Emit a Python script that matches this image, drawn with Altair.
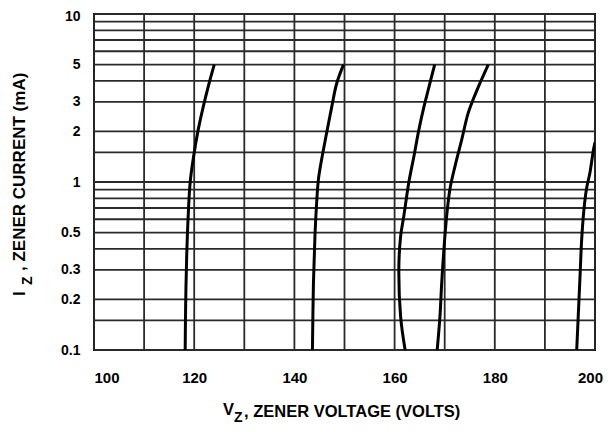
import altair as alt
import pandas as pd

# ---- axis ticks / grid ----
x_ticks = [100, 120, 140, 160, 180, 200]
y_ticks = [0.1, 0.2, 0.3, 0.5, 1, 2, 3, 5, 10]
v_grid = [100, 110, 120, 130, 140, 150, 160, 170, 180, 190, 200]
i_grid = [0.1, 0.15, 0.2, 0.3, 0.4, 0.5, 0.6, 0.7, 0.8, 0.9,
          1, 1.5, 2, 3, 4, 5, 6, 7, 8, 9, 10]

# ---- zener curves (V in volts, I in mA) ----
c1_v = [118.2, 118.3, 118.5, 118.8, 119.2, 119.8, 120.8, 121.8, 122.8, 124.0]
c1_i = [0.1, 0.19, 0.36, 0.63, 1.0, 1.37, 2.05, 2.8, 3.7, 5.0]

c2_v = [143.6, 143.8, 144.1, 144.45, 144.8, 145.45, 146.45, 147.45, 148.45, 149.8]
c2_i = [0.1, 0.25, 0.475, 0.76, 1.04, 1.37, 1.97, 2.8, 3.87, 5.0]

c3_v = [162.1, 161.2, 160.85, 161.2, 161.85, 162.85, 163.85, 164.85, 165.85, 166.85, 168.0]
c3_i = [0.1, 0.158, 0.31, 0.475, 0.63, 1.0, 1.42, 2.05, 2.8, 3.67, 5.0]

c4_v = [168.5, 169.05, 169.4, 169.85, 170.4, 171.05, 172.05, 173.4, 174.7, 176.4, 178.7]
c4_i = [0.1, 0.158, 0.25, 0.40, 0.63, 0.91, 1.24, 1.79, 2.58, 3.5, 5.0]

c5_v = [196.35, 196.65, 197.0, 197.35, 197.8, 198.3, 199.0, 199.7, 200.0]
c5_i = [0.1, 0.158, 0.27, 0.46, 0.69, 0.91, 1.14, 1.56, 1.72]

curves_src = [("A", c1_v, c1_i), ("B", c2_v, c2_i), ("C", c3_v, c3_i),
              ("D", c4_v, c4_i), ("E", c5_v, c5_i)]

rows = []
for name, vs, cs in curves_src:
    for k, (v, i) in enumerate(zip(vs, cs)):
        rows.append({"curve": name, "V": v, "I": i, "k": k})
df = pd.DataFrame(rows)

FONT = "Liberation Sans"
xs = alt.Scale(domain=[100, 200], nice=False, zero=False)
ys = alt.Scale(type="log", domain=[0.1, 10], nice=False)

x_axis = alt.Axis(
    values=x_ticks, title=None, grid=False, domain=False, ticks=False,
    tickSize=0, labelPadding=20, labelFontSize=15, labelFont=FONT,
    labelFontWeight="bold", labelColor="black", labelBaseline="top",
    labelOverlap=False,
    labelAlign={"expr": "datum.value == 100 ? 'left' : 'center'"},
    labelOffset={"expr": "datum.value == 200 ? -5 : 0"})
y_axis = alt.Axis(
    values=y_ticks, format="~g", title=None, grid=False, domain=False,
    ticks=False, tickSize=0, labelPadding=14, labelFontSize=14,
    labelFont=FONT, labelFontWeight="bold", labelColor="black",
    labelOverlap=False,
    labelOffset={"expr": "datum.value == 10 ? 2 : 0"})

curves = alt.Chart(df).mark_line(
    color="black", strokeWidth=3, interpolate="catmull-rom", clip=True
).encode(
    x=alt.X("V:Q", scale=xs, axis=x_axis),
    y=alt.Y("I:Q", scale=ys, axis=y_axis),
    detail="curve:N",
    order="k:Q",
)

hgrid = alt.Chart(pd.DataFrame({"I": i_grid})).mark_rule(
    color="#2a2a2a", strokeWidth=1.8
).encode(y=alt.Y("I:Q", scale=ys, axis=y_axis))

vgrid = alt.Chart(pd.DataFrame({"V": v_grid})).mark_rule(
    color="#2a2a2a", strokeWidth=1.8
).encode(x=alt.X("V:Q", scale=xs, axis=x_axis))


def label(txt, px, py, size, angle=0):
    return alt.Chart(pd.DataFrame({"t": [txt]})).mark_text(
        font=FONT, fontSize=size, fontWeight="bold", color="black",
        align="left", baseline="alphabetic", angle=angle
    ).encode(text="t:N", x=alt.value(px), y=alt.value(py))


# x title: V_Z, ZENER VOLTAGE (VOLTS)
xt1 = label("V", 129, 401, 16.5)
xt2 = label("Z", 140, 408, 14)
xt3 = label(", ZENER VOLTAGE (VOLTS)", 150, 403, 16.5)

# y title: I_Z, ZENER CURRENT (mA) (rotated)
yt1 = label("I", -69, 282, 17, angle=270)
yt2 = label("Z", -62, 271, 14, angle=270)
yt3 = label(", ZENER CURRENT (mA)", -69, 257, 17, angle=270)

chart = alt.layer(hgrid, vgrid, curves, xt1, xt2, xt3, yt1, yt2, yt3).properties(
    width=501, height=336,
    autosize=alt.AutoSizeParams(type="none"),
    padding={"left": 86, "top": 6, "right": 8, "bottom": 80},
    background="white",
).configure_view(stroke="black", strokeWidth=2)

chart.save("out.html", embed_options={"renderer": "svg", "actions": False})
